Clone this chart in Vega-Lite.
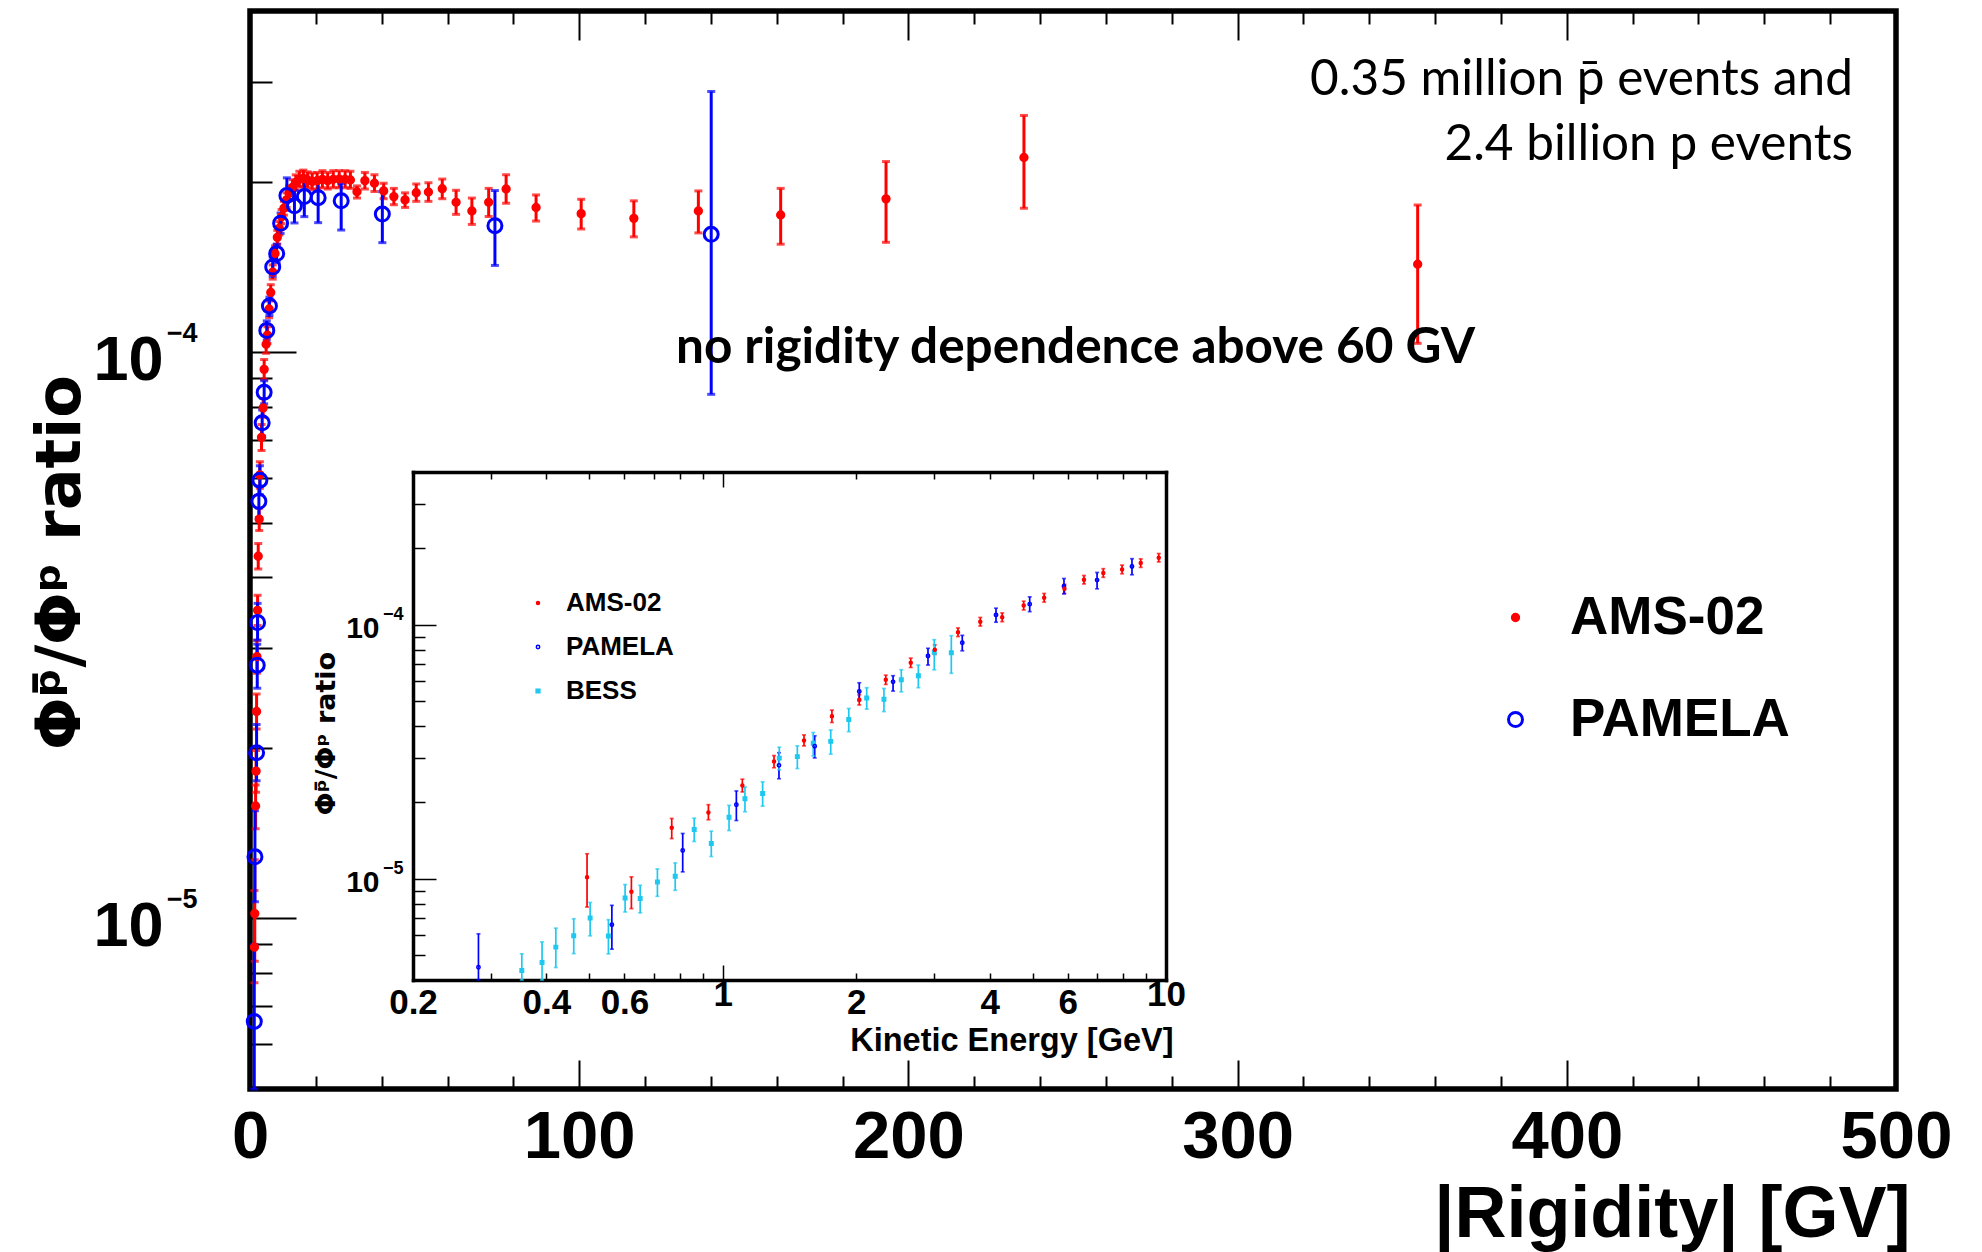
{
  "$schema": "https://vega.github.io/schema/vega-lite/v6.json",
  "width": 1646,
  "height": 1078,
  "autosize": {"type": "none"},
  "padding": {"left": 250, "top": 11, "right": 86, "bottom": 163},
  "background": "white",
  "config": {
    "view": {"stroke": "black", "strokeWidth": 5.5},
    "axis": {"labelFont": "Liberation Sans", "labelFontWeight": "bold", "titleFont": "Liberation Sans", "titleFontWeight": "bold", "labelColor": "black", "titleColor": "black", "tickColor": "black", "domainColor": "black", "grid": false, "labelFlush": false, "labelOverlap": false, "labelBound": false, "labelLimit": 0, "titleLimit": 0},
    "legend": {"labelFont": "Liberation Sans", "labelFontWeight": "bold", "labelColor": "black", "labelLimit": 0}
  },
  "datasets": {
    "ams": [
      {"exp": "AMS-02", "R": 1.35, "v": 8.9e-6, "lo": 7.7e-6, "hi": 1.12e-5},
      {"exp": "AMS-02", "R": 1.45, "v": 1.02e-5, "lo": 8.4e-6, "hi": 1.27e-5},
      {"exp": "AMS-02", "R": 1.7, "v": 1.58e-5, "lo": 1.44e-5, "hi": 1.72e-5},
      {"exp": "AMS-02", "R": 1.85, "v": 1.82e-5, "lo": 1.67e-5, "hi": 1.98e-5},
      {"exp": "AMS-02", "R": 2.0, "v": 2.32e-5, "lo": 2.16e-5, "hi": 2.49e-5},
      {"exp": "AMS-02", "R": 2.1, "v": 2.9e-5, "lo": 2.71e-5, "hi": 3.1e-5},
      {"exp": "AMS-02", "R": 2.3, "v": 3.5e-5, "lo": 3.29e-5, "hi": 3.72e-5},
      {"exp": "AMS-02", "R": 2.5, "v": 4.36e-5, "lo": 4.14e-5, "hi": 4.59e-5},
      {"exp": "AMS-02", "R": 2.8, "v": 5.07e-5, "lo": 4.84e-5, "hi": 5.3e-5},
      {"exp": "AMS-02", "R": 3.0, "v": 6.07e-5, "lo": 5.75e-5, "hi": 6.4e-5},
      {"exp": "AMS-02", "R": 3.5, "v": 7.07e-5, "lo": 6.7e-5, "hi": 7.45e-5},
      {"exp": "AMS-02", "R": 4.0, "v": 7.97e-5, "lo": 7.67e-5, "hi": 8.28e-5},
      {"exp": "AMS-02", "R": 4.3, "v": 9.32e-5, "lo": 8.95e-5, "hi": 9.7e-5},
      {"exp": "AMS-02", "R": 4.9, "v": 1.032e-4, "lo": 9.95e-5, "hi": 1.07e-4},
      {"exp": "AMS-02", "R": 5.3, "v": 1.071e-4, "lo": 1.035e-4, "hi": 1.108e-4},
      {"exp": "AMS-02", "R": 5.8, "v": 1.191e-4, "lo": 1.15e-4, "hi": 1.23e-4},
      {"exp": "AMS-02", "R": 6.3, "v": 1.274e-4, "lo": 1.235e-4, "hi": 1.315e-4},
      {"exp": "AMS-02", "R": 6.9, "v": 1.384e-4, "lo": 1.345e-4, "hi": 1.425e-4},
      {"exp": "AMS-02", "R": 7.6, "v": 1.493e-4, "lo": 1.45e-4, "hi": 1.54e-4},
      {"exp": "AMS-02", "R": 8.3, "v": 1.594e-4, "lo": 1.55e-4, "hi": 1.64e-4},
      {"exp": "AMS-02", "R": 8.9, "v": 1.654e-4, "lo": 1.61e-4, "hi": 1.7e-4},
      {"exp": "AMS-02", "R": 9.6, "v": 1.734e-4, "lo": 1.685e-4, "hi": 1.785e-4},
      {"exp": "AMS-02", "R": 10.3, "v": 1.794e-4, "lo": 1.745e-4, "hi": 1.845e-4},
      {"exp": "AMS-02", "R": 11.1, "v": 1.856e-4, "lo": 1.8e-4, "hi": 1.91e-4},
      {"exp": "AMS-02", "R": 11.9, "v": 1.907e-4, "lo": 1.85e-4, "hi": 1.965e-4},
      {"exp": "AMS-02", "R": 12.9, "v": 1.954e-4, "lo": 1.895e-4, "hi": 2.015e-4},
      {"exp": "AMS-02", "R": 13.9, "v": 1.991e-4, "lo": 1.93e-4, "hi": 2.055e-4},
      {"exp": "AMS-02", "R": 15.0, "v": 2.018e-4, "lo": 1.955e-4, "hi": 2.085e-4},
      {"exp": "AMS-02", "R": 16.2, "v": 2.026e-4, "lo": 1.96e-4, "hi": 2.095e-4},
      {"exp": "AMS-02", "R": 17.5, "v": 2.013e-4, "lo": 1.95e-4, "hi": 2.08e-4},
      {"exp": "AMS-02", "R": 18.9, "v": 2.0e-4, "lo": 1.935e-4, "hi": 2.07e-4},
      {"exp": "AMS-02", "R": 20.4, "v": 2.007e-4, "lo": 1.94e-4, "hi": 2.075e-4},
      {"exp": "AMS-02", "R": 22.0, "v": 2.018e-4, "lo": 1.95e-4, "hi": 2.09e-4},
      {"exp": "AMS-02", "R": 23.6, "v": 2.007e-4, "lo": 1.94e-4, "hi": 2.075e-4},
      {"exp": "AMS-02", "R": 25.3, "v": 2.018e-4, "lo": 1.95e-4, "hi": 2.09e-4},
      {"exp": "AMS-02", "R": 27.1, "v": 2.02e-4, "lo": 1.95e-4, "hi": 2.09e-4},
      {"exp": "AMS-02", "R": 28.9, "v": 2.018e-4, "lo": 1.95e-4, "hi": 2.09e-4},
      {"exp": "AMS-02", "R": 30.5, "v": 2.013e-4, "lo": 1.945e-4, "hi": 2.085e-4},
      {"exp": "AMS-02", "R": 32.5, "v": 1.919e-4, "lo": 1.87e-4, "hi": 1.965e-4},
      {"exp": "AMS-02", "R": 34.9, "v": 2.007e-4, "lo": 1.94e-4, "hi": 2.075e-4},
      {"exp": "AMS-02", "R": 37.8, "v": 1.986e-4, "lo": 1.92e-4, "hi": 2.055e-4},
      {"exp": "AMS-02", "R": 40.6, "v": 1.925e-4, "lo": 1.865e-4, "hi": 1.986e-4},
      {"exp": "AMS-02", "R": 43.7, "v": 1.881e-4, "lo": 1.82e-4, "hi": 1.945e-4},
      {"exp": "AMS-02", "R": 47.1, "v": 1.856e-4, "lo": 1.8e-4, "hi": 1.91e-4},
      {"exp": "AMS-02", "R": 50.5, "v": 1.911e-4, "lo": 1.845e-4, "hi": 1.98e-4},
      {"exp": "AMS-02", "R": 54.2, "v": 1.916e-4, "lo": 1.845e-4, "hi": 1.99e-4},
      {"exp": "AMS-02", "R": 58.4, "v": 1.942e-4, "lo": 1.865e-4, "hi": 2.02e-4},
      {"exp": "AMS-02", "R": 62.6, "v": 1.838e-4, "lo": 1.75e-4, "hi": 1.93e-4},
      {"exp": "AMS-02", "R": 67.4, "v": 1.774e-4, "lo": 1.68e-4, "hi": 1.87e-4},
      {"exp": "AMS-02", "R": 72.5, "v": 1.838e-4, "lo": 1.735e-4, "hi": 1.945e-4},
      {"exp": "AMS-02", "R": 77.8, "v": 1.94e-4, "lo": 1.83e-4, "hi": 2.055e-4},
      {"exp": "AMS-02", "R": 86.9, "v": 1.8e-4, "lo": 1.703e-4, "hi": 1.894e-4},
      {"exp": "AMS-02", "R": 100.6, "v": 1.755e-4, "lo": 1.649e-4, "hi": 1.861e-4},
      {"exp": "AMS-02", "R": 116.6, "v": 1.722e-4, "lo": 1.597e-4, "hi": 1.849e-4},
      {"exp": "AMS-02", "R": 136.2, "v": 1.774e-4, "lo": 1.623e-4, "hi": 1.925e-4},
      {"exp": "AMS-02", "R": 161.2, "v": 1.746e-4, "lo": 1.55e-4, "hi": 1.945e-4},
      {"exp": "AMS-02", "R": 193.2, "v": 1.864e-4, "lo": 1.562e-4, "hi": 2.169e-4},
      {"exp": "AMS-02", "R": 235.1, "v": 2.205e-4, "lo": 1.794e-4, "hi": 2.616e-4},
      {"exp": "AMS-02", "R": 354.7, "v": 1.429e-4, "lo": 1.036e-4, "hi": 1.818e-4}
    ],
    "pam": [
      {"exp": "PAMELA", "R": 1.3, "v": 6.58e-6, "lo": 4.8e-6, "hi": 9.0e-6},
      {"exp": "PAMELA", "R": 1.5, "v": 1.285e-5, "lo": 1.07e-5, "hi": 1.55e-5},
      {"exp": "PAMELA", "R": 2.0, "v": 1.962e-5, "lo": 1.75e-5, "hi": 2.2e-5},
      {"exp": "PAMELA", "R": 2.2, "v": 2.8e-5, "lo": 2.55e-5, "hi": 3.05e-5},
      {"exp": "PAMELA", "R": 2.3, "v": 3.33e-5, "lo": 3.1e-5, "hi": 3.6e-5},
      {"exp": "PAMELA", "R": 2.7, "v": 5.45e-5, "lo": 5.1e-5, "hi": 5.8e-5},
      {"exp": "PAMELA", "R": 3.0, "v": 5.94e-5, "lo": 5.6e-5, "hi": 6.3e-5},
      {"exp": "PAMELA", "R": 3.7, "v": 7.5e-5, "lo": 7.1e-5, "hi": 7.9e-5},
      {"exp": "PAMELA", "R": 4.3, "v": 8.49e-5, "lo": 8.1e-5, "hi": 8.9e-5},
      {"exp": "PAMELA", "R": 5.1, "v": 1.092e-4, "lo": 1.05e-4, "hi": 1.135e-4},
      {"exp": "PAMELA", "R": 5.9, "v": 1.206e-4, "lo": 1.16e-4, "hi": 1.25e-4},
      {"exp": "PAMELA", "R": 6.9, "v": 1.413e-4, "lo": 1.36e-4, "hi": 1.47e-4},
      {"exp": "PAMELA", "R": 8.1, "v": 1.492e-4, "lo": 1.44e-4, "hi": 1.55e-4},
      {"exp": "PAMELA", "R": 9.3, "v": 1.688e-4, "lo": 1.62e-4, "hi": 1.76e-4},
      {"exp": "PAMELA", "R": 11.2, "v": 1.889e-4, "lo": 1.78e-4, "hi": 2.03e-4},
      {"exp": "PAMELA", "R": 13.5, "v": 1.812e-4, "lo": 1.69e-4, "hi": 1.93e-4},
      {"exp": "PAMELA", "R": 16.5, "v": 1.881e-4, "lo": 1.734e-4, "hi": 2.0e-4},
      {"exp": "PAMELA", "R": 20.7, "v": 1.873e-4, "lo": 1.692e-4, "hi": 1.995e-4},
      {"exp": "PAMELA", "R": 27.7, "v": 1.849e-4, "lo": 1.642e-4, "hi": 1.986e-4},
      {"exp": "PAMELA", "R": 40.2, "v": 1.752e-4, "lo": 1.56e-4, "hi": 1.919e-4},
      {"exp": "PAMELA", "R": 74.4, "v": 1.671e-4, "lo": 1.422e-4, "hi": 1.928e-4},
      {"exp": "PAMELA", "R": 140.1, "v": 1.614e-4, "lo": 8.42e-5, "hi": 2.884e-4}
    ],
    "ins_ams": [
      {"exp": "AMS-02", "E": 0.494, "v": 1.015e-5, "lo": 7.75e-6, "hi": 1.256e-5},
      {"exp": "AMS-02", "E": 0.622, "v": 8.91e-6, "lo": 7.64e-6, "hi": 1.019e-5},
      {"exp": "AMS-02", "E": 0.767, "v": 1.589e-5, "lo": 1.442e-5, "hi": 1.73e-5},
      {"exp": "AMS-02", "E": 0.928, "v": 1.828e-5, "lo": 1.71e-5, "hi": 1.96e-5},
      {"exp": "AMS-02", "E": 1.107, "v": 2.335e-5, "lo": 2.2e-5, "hi": 2.47e-5},
      {"exp": "AMS-02", "E": 1.305, "v": 2.9e-5, "lo": 2.74e-5, "hi": 3.06e-5},
      {"exp": "AMS-02", "E": 1.525, "v": 3.51e-5, "lo": 3.34e-5, "hi": 3.69e-5},
      {"exp": "AMS-02", "E": 1.763, "v": 4.37e-5, "lo": 4.13e-5, "hi": 4.62e-5},
      {"exp": "AMS-02", "E": 2.032, "v": 5.07e-5, "lo": 4.84e-5, "hi": 5.31e-5},
      {"exp": "AMS-02", "E": 2.332, "v": 6.08e-5, "lo": 5.83e-5, "hi": 6.34e-5},
      {"exp": "AMS-02", "E": 2.655, "v": 7.1e-5, "lo": 6.8e-5, "hi": 7.4e-5},
      {"exp": "AMS-02", "E": 3.008, "v": 7.99e-5, "lo": 7.65e-5, "hi": 8.35e-5},
      {"exp": "AMS-02", "E": 3.394, "v": 9.36e-5, "lo": 9.0e-5, "hi": 9.73e-5},
      {"exp": "AMS-02", "E": 3.81, "v": 1.03e-4, "lo": 9.9e-5, "hi": 1.07e-4},
      {"exp": "AMS-02", "E": 4.27, "v": 1.072e-4, "lo": 1.03e-4, "hi": 1.115e-4},
      {"exp": "AMS-02", "E": 4.774, "v": 1.192e-4, "lo": 1.145e-4, "hi": 1.24e-4},
      {"exp": "AMS-02", "E": 5.31, "v": 1.278e-4, "lo": 1.23e-4, "hi": 1.33e-4},
      {"exp": "AMS-02", "E": 5.9, "v": 1.387e-4, "lo": 1.33e-4, "hi": 1.445e-4},
      {"exp": "AMS-02", "E": 6.53, "v": 1.505e-4, "lo": 1.45e-4, "hi": 1.565e-4},
      {"exp": "AMS-02", "E": 7.22, "v": 1.6e-4, "lo": 1.54e-4, "hi": 1.665e-4},
      {"exp": "AMS-02", "E": 7.96, "v": 1.653e-4, "lo": 1.59e-4, "hi": 1.72e-4},
      {"exp": "AMS-02", "E": 8.77, "v": 1.752e-4, "lo": 1.685e-4, "hi": 1.82e-4},
      {"exp": "AMS-02", "E": 9.63, "v": 1.838e-4, "lo": 1.77e-4, "hi": 1.91e-4}
    ],
    "ins_pam": [
      {"exp": "PAMELA", "E": 0.281, "v": 4.49e-6, "lo": 3.5e-6, "hi": 6.08e-6},
      {"exp": "PAMELA", "E": 0.562, "v": 6.6e-6, "lo": 5.29e-6, "hi": 7.87e-6},
      {"exp": "PAMELA", "E": 0.812, "v": 1.294e-5, "lo": 1.066e-5, "hi": 1.51e-5},
      {"exp": "PAMELA", "E": 1.073, "v": 1.959e-5, "lo": 1.698e-5, "hi": 2.22e-5},
      {"exp": "PAMELA", "E": 1.339, "v": 2.8e-5, "lo": 2.48e-5, "hi": 3.14e-5},
      {"exp": "PAMELA", "E": 1.612, "v": 3.33e-5, "lo": 2.995e-5, "hi": 3.66e-5},
      {"exp": "PAMELA", "E": 2.032, "v": 5.47e-5, "lo": 5.03e-5, "hi": 5.92e-5},
      {"exp": "PAMELA", "E": 2.422, "v": 5.97e-5, "lo": 5.49e-5, "hi": 6.31e-5},
      {"exp": "PAMELA", "E": 2.904, "v": 7.54e-5, "lo": 6.95e-5, "hi": 8.09e-5},
      {"exp": "PAMELA", "E": 3.47, "v": 8.51e-5, "lo": 7.91e-5, "hi": 9.1e-5},
      {"exp": "PAMELA", "E": 4.135, "v": 1.095e-4, "lo": 1.025e-4, "hi": 1.164e-4},
      {"exp": "PAMELA", "E": 4.926, "v": 1.207e-4, "lo": 1.128e-4, "hi": 1.29e-4},
      {"exp": "PAMELA", "E": 5.886, "v": 1.421e-4, "lo": 1.325e-4, "hi": 1.523e-4},
      {"exp": "PAMELA", "E": 6.99, "v": 1.501e-4, "lo": 1.387e-4, "hi": 1.609e-4},
      {"exp": "PAMELA", "E": 8.38, "v": 1.699e-4, "lo": 1.576e-4, "hi": 1.823e-4}
    ],
    "ins_bess": [
      {"exp": "BESS", "E": 0.352, "v": 4.36e-6, "lo": 3.7e-6, "hi": 5.07e-6},
      {"exp": "BESS", "E": 0.391, "v": 4.69e-6, "lo": 3.9e-6, "hi": 5.65e-6},
      {"exp": "BESS", "E": 0.42, "v": 5.39e-6, "lo": 4.48e-6, "hi": 6.4e-6},
      {"exp": "BESS", "E": 0.461, "v": 5.97e-6, "lo": 5.08e-6, "hi": 6.97e-6},
      {"exp": "BESS", "E": 0.502, "v": 7.02e-6, "lo": 5.97e-6, "hi": 8.08e-6},
      {"exp": "BESS", "E": 0.552, "v": 5.96e-6, "lo": 5.07e-6, "hi": 6.91e-6},
      {"exp": "BESS", "E": 0.602, "v": 8.41e-6, "lo": 7.41e-6, "hi": 9.5e-6},
      {"exp": "BESS", "E": 0.651, "v": 8.38e-6, "lo": 7.35e-6, "hi": 9.44e-6},
      {"exp": "BESS", "E": 0.712, "v": 9.73e-6, "lo": 8.54e-6, "hi": 1.095e-5},
      {"exp": "BESS", "E": 0.781, "v": 1.024e-5, "lo": 9.02e-6, "hi": 1.156e-5},
      {"exp": "BESS", "E": 0.862, "v": 1.565e-5, "lo": 1.404e-5, "hi": 1.734e-5},
      {"exp": "BESS", "E": 0.942, "v": 1.378e-5, "lo": 1.225e-5, "hi": 1.542e-5},
      {"exp": "BESS", "E": 1.033, "v": 1.75e-5, "lo": 1.551e-5, "hi": 1.948e-5},
      {"exp": "BESS", "E": 1.122, "v": 2.07e-5, "lo": 1.839e-5, "hi": 2.3e-5},
      {"exp": "BESS", "E": 1.23, "v": 2.17e-5, "lo": 1.935e-5, "hi": 2.41e-5},
      {"exp": "BESS", "E": 1.341, "v": 2.99e-5, "lo": 2.69e-5, "hi": 3.3e-5},
      {"exp": "BESS", "E": 1.473, "v": 3.03e-5, "lo": 2.72e-5, "hi": 3.34e-5},
      {"exp": "BESS", "E": 1.6, "v": 3.42e-5, "lo": 3.05e-5, "hi": 3.77e-5},
      {"exp": "BESS", "E": 1.752, "v": 3.48e-5, "lo": 3.1e-5, "hi": 3.86e-5},
      {"exp": "BESS", "E": 1.924, "v": 4.24e-5, "lo": 3.8e-5, "hi": 4.69e-5},
      {"exp": "BESS", "E": 2.112, "v": 5.16e-5, "lo": 4.66e-5, "hi": 5.66e-5},
      {"exp": "BESS", "E": 2.31, "v": 5.1e-5, "lo": 4.56e-5, "hi": 5.62e-5},
      {"exp": "BESS", "E": 2.528, "v": 6.08e-5, "lo": 5.45e-5, "hi": 6.66e-5},
      {"exp": "BESS", "E": 2.762, "v": 6.31e-5, "lo": 5.66e-5, "hi": 6.95e-5},
      {"exp": "BESS", "E": 3.0, "v": 7.8e-5, "lo": 6.66e-5, "hi": 8.75e-5},
      {"exp": "BESS", "E": 3.278, "v": 7.77e-5, "lo": 6.45e-5, "hi": 9.07e-5}
    ],
    "notes": [
      {"events": ["0.35 million p̄ events and", "2.4 billion p events"], "claim": "no rigidity dependence above 60 GV"}
    ]
  },
  "layer": [
    {
      "layer": [
        {
          "data": {"name": "ams"},
          "mark": {"type": "errorbar", "ticks": {"size": 8}, "thickness": 3},
          "encoding": {
            "x": {"field": "R", "type": "quantitative", "scale": {"domain": [0, 500], "nice": false, "zero": false},
              "axis": {"orient": "bottom", "values": [0, 20, 40, 60, 80, 100, 120, 140, 160, 180, 200, 220, 240, 260, 280, 300, 320, 340, 360, 380, 400, 420, 440, 460, 480, 500],
                "tickSize": {"condition": {"test": "datum.value % 100 == 0", "value": -29}, "value": -13}, "tickWidth": 2,
                "labelExpr": "datum.value % 100 == 0 ? '' + datum.value : ''", "labelFontSize": 67, "labelPadding": 44, "domain": false,
                "title": "|Rigidity| [GV]", "titleFontSize": 72, "titleAnchor": "end", "titleAlign": "right", "titleX": 1660, "titleY": 147, "titleBaseline": "alphabetic"}},
            "y": {"field": "lo", "type": "quantitative", "scale": {"type": "log", "domain": [5e-6, 4e-4], "nice": false, "clamp": true},
              "axis": {"orient": "left", "values": [6e-6, 7e-6, 8e-6, 9e-6, 1e-5, 2e-5, 3e-5, 4e-5, 5e-5, 6e-5, 7e-5, 8e-5, 9e-5, 1e-4, 2e-4, 3e-4],
                "tickSize": {"condition": {"test": "datum.value == 0.0001 || datum.value == 0.00001", "value": -46}, "value": -22}, "tickWidth": 2,
                "labelExpr": "(datum.value == 0.0001 || datum.value == 0.00001) ? '10' : ''", "labelFontSize": 63, "labelPadding": 133, "labelOffset": 8, "domain": false,
                "title": "Φᵖ̄/Φᵖ ratio", "titleFont": "DejaVu Sans", "titleFontSize": 62, "titleX": -190, "titleY": 551, "titleAngle": -90, "titleAlign": "center", "titleBaseline": "middle"}},
            "y2": {"field": "hi"},
            "color": {"value": "#ff0000"}
          }
        },
        {
          "data": {"name": "pam"},
          "mark": {"type": "errorbar", "ticks": {"size": 8}, "thickness": 3},
          "encoding": {
            "x": {"field": "R", "type": "quantitative", "scale": {"domain": [0, 500], "nice": false, "zero": false},
              "axis": {"orient": "top", "values": [0, 20, 40, 60, 80, 100, 120, 140, 160, 180, 200, 220, 240, 260, 280, 300, 320, 340, 360, 380, 400, 420, 440, 460, 480, 500],
                "tickSize": {"condition": {"test": "datum.value % 100 == 0", "value": -29}, "value": -13}, "tickWidth": 2,
                "labels": false, "domain": false, "title": null}},
            "y": {"field": "lo", "type": "quantitative", "scale": {"type": "log", "domain": [5e-6, 4e-4], "nice": false, "clamp": true}, "axis": null},
            "y2": {"field": "hi"},
            "color": {"value": "#0000ff"}
          }
        },
        {
          "data": {"name": "ams"},
          "mark": {"type": "point", "shape": "circle", "strokeWidth": 3, "opacity": 1},
          "encoding": {
            "x": {"field": "R", "type": "quantitative", "scale": {"domain": [0, 500], "nice": false, "zero": false}, "axis": null},
            "y": {"field": "v", "type": "quantitative", "scale": {"type": "log", "domain": [5e-6, 4e-4], "nice": false, "clamp": true},
              "axis": {"orient": "left", "values": [1e-5, 1e-4], "ticks": false, "domain": false, "title": null,
                "labelExpr": "datum.value == 0.0001 ? '−4' : '−5'", "labelFontSize": 27, "labelPadding": 53, "labelOffset": -19}},
            "fill": {"field": "exp", "type": "nominal", "scale": {"domain": ["AMS-02", "PAMELA"], "range": ["#ff0000", "transparent"]},
              "legend": {"orient": "none", "legendX": 1239, "legendY": 580, "title": null, "labelFontSize": 53, "labelOffset": 28, "rowPadding": 48, "symbolStrokeWidth": 3, "symbolType": "circle", "padding": 0}},
            "stroke": {"field": "exp", "type": "nominal", "scale": {"domain": ["AMS-02", "PAMELA"], "range": ["#ff0000", "#0000ff"]},
              "legend": {"orient": "none", "legendX": 1239, "legendY": 580, "title": null, "labelFontSize": 53, "labelOffset": 28, "rowPadding": 48, "symbolStrokeWidth": 3, "symbolType": "circle", "padding": 0}},
            "size": {"field": "exp", "type": "nominal", "scale": {"domain": ["AMS-02", "PAMELA"], "range": [40, 196]},
              "legend": {"orient": "none", "legendX": 1239, "legendY": 580, "title": null, "labelFontSize": 53, "labelOffset": 28, "rowPadding": 48, "symbolStrokeWidth": 3, "symbolType": "circle", "padding": 0}}
          }
        },
        {
          "data": {"name": "pam"},
          "mark": {"type": "point", "shape": "circle", "strokeWidth": 3, "opacity": 1},
          "encoding": {
            "x": {"field": "R", "type": "quantitative", "scale": {"domain": [0, 500], "nice": false, "zero": false}, "axis": null},
            "y": {"field": "v", "type": "quantitative", "scale": {"type": "log", "domain": [5e-6, 4e-4], "nice": false, "clamp": true}, "axis": null},
            "fill": {"field": "exp", "type": "nominal", "scale": {"domain": ["AMS-02", "PAMELA"], "range": ["#ff0000", "transparent"]}},
            "stroke": {"field": "exp", "type": "nominal", "scale": {"domain": ["AMS-02", "PAMELA"], "range": ["#ff0000", "#0000ff"]}},
            "size": {"field": "exp", "type": "nominal", "scale": {"domain": ["AMS-02", "PAMELA"], "range": [40, 196]}}
          }
        },
        {
          "data": {"name": "notes"},
          "mark": {"type": "text", "align": "right", "baseline": "alphabetic", "font": "Lato", "fontSize": 49.5, "lineHeight": 65, "color": "black"},
          "encoding": {
            "x": {"datum": 486.9, "type": "quantitative", "scale": {"domain": [0, 500], "nice": false, "zero": false}, "axis": null},
            "y": {"datum": 0.0002843, "type": "quantitative", "scale": {"type": "log", "domain": [5e-6, 4e-4], "nice": false, "clamp": true}, "axis": null},
            "text": {"field": "events"}
          }
        },
        {
          "data": {"name": "notes"},
          "mark": {"type": "text", "align": "left", "baseline": "alphabetic", "font": "Lato", "fontWeight": "bold", "fontSize": 49.5, "color": "black"},
          "encoding": {
            "x": {"datum": 129.4, "type": "quantitative", "scale": {"domain": [0, 500], "nice": false, "zero": false}, "axis": null},
            "y": {"datum": 0.0000956, "type": "quantitative", "scale": {"type": "log", "domain": [5e-6, 4e-4], "nice": false, "clamp": true}, "axis": null},
            "text": {"field": "claim"}
          }
        }
      ],
      "resolve": {"axis": {"x": "independent", "y": "independent"}}
    },
    {
      "layer": [
        {
          "data": {"name": "ins_ams"},
          "mark": {"type": "errorbar", "ticks": {"size": 4}, "thickness": 1.7},
          "encoding": {
            "x": {"field": "E", "type": "quantitative", "scale": {"type": "log", "domain": [0.2, 10], "range": [163, 916], "nice": false},
              "axis": {"orient": "bottom", "offset": -109, "values": [0.2, 0.3, 0.4, 0.5, 0.6, 0.7, 0.8, 0.9, 1, 2, 3, 4, 5, 6, 7, 8, 9, 10],
                "tickSize": {"condition": {"test": "datum.value == 1 || datum.value == 10", "value": -15}, "value": -7}, "tickWidth": 1.5,
                "labelExpr": "(datum.value == 0.2 || datum.value == 0.4 || datum.value == 0.6 || datum.value == 1 || datum.value == 2 || datum.value == 4 || datum.value == 6 || datum.value == 10) ? '' + datum.value : ''", "labelFontSize": 35, "labelPadding": 12,
                "domain": true, "domainWidth": 3.5, "domainCap": "square",
                "title": "Kinetic Energy [GeV]", "titleFontSize": 32.5, "titleAlign": "right", "titleX": 923, "titleY": 70, "titleBaseline": "alphabetic"}},
            "y": {"field": "lo", "type": "quantitative", "scale": {"type": "log", "domain": [4e-6, 4e-4], "range": [969, 461], "nice": false, "clamp": true},
              "axis": {"orient": "left", "offset": -163, "values": [5e-6, 6e-6, 7e-6, 8e-6, 9e-6, 1e-5, 2e-5, 3e-5, 4e-5, 5e-5, 6e-5, 7e-5, 8e-5, 9e-5, 1e-4, 2e-4, 3e-4],
                "tickSize": {"condition": {"test": "datum.value == 0.0001 || datum.value == 0.00001", "value": -23}, "value": -12}, "tickWidth": 1.5,
                "labelExpr": "(datum.value == 0.0001 || datum.value == 0.00001) ? '10' : ''", "labelFontSize": 30, "labelPadding": 57, "labelOffset": 4,
                "domain": true, "domainWidth": 3.5, "domainCap": "square",
                "title": "Φᵖ̄/Φᵖ ratio", "titleFont": "DejaVu Sans", "titleFontSize": 27, "titleX": -87, "titleY": 722, "titleAngle": -90, "titleAlign": "center", "titleBaseline": "middle"}},
            "y2": {"field": "hi"},
            "color": {"value": "#ff0000"}
          }
        },
        {
          "data": {"name": "ins_pam"},
          "mark": {"type": "errorbar", "ticks": {"size": 4}, "thickness": 1.7},
          "encoding": {
            "x": {"field": "E", "type": "quantitative", "scale": {"type": "log", "domain": [0.2, 10], "range": [163, 916], "nice": false},
              "axis": {"orient": "top", "offset": -461, "values": [0.2, 0.3, 0.4, 0.5, 0.6, 0.7, 0.8, 0.9, 1, 2, 3, 4, 5, 6, 7, 8, 9, 10],
                "tickSize": {"condition": {"test": "datum.value == 1 || datum.value == 10", "value": -15}, "value": -7}, "tickWidth": 1.5,
                "labels": false, "domain": true, "domainWidth": 3.5, "domainCap": "square", "title": null}},
            "y": {"field": "lo", "type": "quantitative", "scale": {"type": "log", "domain": [4e-6, 4e-4], "range": [969, 461], "nice": false, "clamp": true},
              "axis": {"orient": "right", "offset": -730, "ticks": false, "labels": false, "domain": true, "domainWidth": 3.5, "domainCap": "square", "title": null}},
            "y2": {"field": "hi"},
            "color": {"value": "#0000ff"}
          }
        },
        {
          "data": {"name": "ins_bess"},
          "mark": {"type": "errorbar", "ticks": {"size": 4}, "thickness": 1.7},
          "encoding": {
            "x": {"field": "E", "type": "quantitative", "scale": {"type": "log", "domain": [0.2, 10], "range": [163, 916], "nice": false}, "axis": null},
            "y": {"field": "lo", "type": "quantitative", "scale": {"type": "log", "domain": [4e-6, 4e-4], "range": [969, 461], "nice": false, "clamp": true},
              "axis": {"orient": "left", "offset": -163, "values": [1e-5, 1e-4], "ticks": false, "domain": false, "title": null,
                "labelExpr": "datum.value == 0.0001 ? '−4' : '−5'", "labelFontSize": 18, "labelPadding": 10, "labelOffset": -10}},
            "y2": {"field": "hi"},
            "color": {"value": "#1ec8f0"}
          }
        },
        {
          "data": {"name": "ins_bess"},
          "mark": {"type": "point", "strokeWidth": 1.2, "opacity": 1},
          "encoding": {
            "x": {"field": "E", "type": "quantitative", "scale": {"type": "log", "domain": [0.2, 10], "range": [163, 916], "nice": false}, "axis": null},
            "y": {"field": "v", "type": "quantitative", "scale": {"type": "log", "domain": [4e-6, 4e-4], "range": [969, 461], "nice": false, "clamp": true}, "axis": null},
            "fill": {"field": "exp", "type": "nominal", "scale": {"domain": ["AMS-02", "PAMELA", "BESS"], "range": ["#ff0000", "transparent", "#1ec8f0"]},
              "legend": {"orient": "none", "legendX": 275, "legendY": 579, "title": null, "labelFontSize": 26, "labelOffset": 15, "rowPadding": 18, "symbolStrokeWidth": 1.5, "padding": 0}},
            "stroke": {"field": "exp", "type": "nominal", "scale": {"domain": ["AMS-02", "PAMELA", "BESS"], "range": ["#ff0000", "#0000ff", "#1ec8f0"]},
              "legend": {"orient": "none", "legendX": 275, "legendY": 579, "title": null, "labelFontSize": 26, "labelOffset": 15, "rowPadding": 18, "symbolStrokeWidth": 1.5, "padding": 0}},
            "size": {"field": "exp", "type": "nominal", "scale": {"domain": ["AMS-02", "PAMELA", "BESS"], "range": [9, 14, 16]},
              "legend": {"orient": "none", "legendX": 275, "legendY": 579, "title": null, "labelFontSize": 26, "labelOffset": 15, "rowPadding": 18, "symbolStrokeWidth": 1.5, "padding": 0}},
            "shape": {"field": "exp", "type": "nominal", "scale": {"domain": ["AMS-02", "PAMELA", "BESS"], "range": ["circle", "circle", "square"]},
              "legend": {"orient": "none", "legendX": 275, "legendY": 579, "title": null, "labelFontSize": 26, "labelOffset": 15, "rowPadding": 18, "symbolStrokeWidth": 1.5, "padding": 0}}
          }
        },
        {
          "data": {"name": "ins_pam"},
          "mark": {"type": "point", "strokeWidth": 1.5, "opacity": 1},
          "encoding": {
            "x": {"field": "E", "type": "quantitative", "scale": {"type": "log", "domain": [0.2, 10], "range": [163, 916], "nice": false}, "axis": null},
            "y": {"field": "v", "type": "quantitative", "scale": {"type": "log", "domain": [4e-6, 4e-4], "range": [969, 461], "nice": false, "clamp": true}, "axis": null},
            "fill": {"field": "exp", "type": "nominal", "scale": {"domain": ["AMS-02", "PAMELA", "BESS"], "range": ["#ff0000", "transparent", "#1ec8f0"]}},
            "stroke": {"field": "exp", "type": "nominal", "scale": {"domain": ["AMS-02", "PAMELA", "BESS"], "range": ["#ff0000", "#0000ff", "#1ec8f0"]}},
            "size": {"field": "exp", "type": "nominal", "scale": {"domain": ["AMS-02", "PAMELA", "BESS"], "range": [9, 14, 16]}},
            "shape": {"field": "exp", "type": "nominal", "scale": {"domain": ["AMS-02", "PAMELA", "BESS"], "range": ["circle", "circle", "square"]}}
          }
        },
        {
          "data": {"name": "ins_ams"},
          "mark": {"type": "point", "strokeWidth": 1.5, "opacity": 1},
          "encoding": {
            "x": {"field": "E", "type": "quantitative", "scale": {"type": "log", "domain": [0.2, 10], "range": [163, 916], "nice": false}, "axis": null},
            "y": {"field": "v", "type": "quantitative", "scale": {"type": "log", "domain": [4e-6, 4e-4], "range": [969, 461], "nice": false, "clamp": true}, "axis": null},
            "fill": {"field": "exp", "type": "nominal", "scale": {"domain": ["AMS-02", "PAMELA", "BESS"], "range": ["#ff0000", "transparent", "#1ec8f0"]}},
            "stroke": {"field": "exp", "type": "nominal", "scale": {"domain": ["AMS-02", "PAMELA", "BESS"], "range": ["#ff0000", "#0000ff", "#1ec8f0"]}},
            "size": {"field": "exp", "type": "nominal", "scale": {"domain": ["AMS-02", "PAMELA", "BESS"], "range": [9, 14, 16]}},
            "shape": {"field": "exp", "type": "nominal", "scale": {"domain": ["AMS-02", "PAMELA", "BESS"], "range": ["circle", "circle", "square"]}}
          }
        }
      ],
      "resolve": {"axis": {"x": "independent", "y": "independent"}}
    }
  ],
  "resolve": {"scale": {"x": "independent", "y": "independent", "fill": "independent", "stroke": "independent", "size": "independent", "shape": "independent"}}
}
